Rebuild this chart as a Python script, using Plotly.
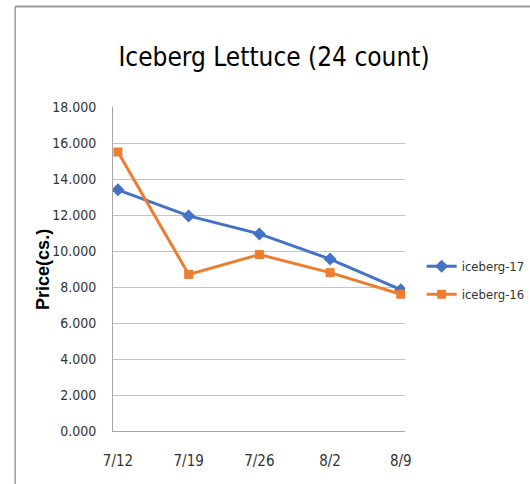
import plotly.graph_objects as go

dates = ["7/12", "7/19", "7/26", "8/2", "8/9"]
iceberg_17 = [13.4, 11.95, 10.95, 9.55, 7.85]
iceberg_16 = [15.5, 8.7, 9.8, 8.8, 7.6]
y_ticks = [0, 2, 4, 6, 8, 10, 12, 14, 16, 18]

FONT = "DejaVu Sans Condensed, Liberation Sans Narrow, Roboto, sans-serif"
BLUE = "#4472C4"
ORANGE = "#ED7D31"
TEXT = "#333333"

fig = go.Figure()
fig.add_trace(go.Scatter(
    x=list(range(len(dates))), y=iceberg_17, name="iceberg-17",
    mode="lines+markers", legendgroup="a",
    line=dict(color=BLUE, width=3),
    marker=dict(symbol="diamond", size=10, color=BLUE),
))
fig.add_trace(go.Scatter(
    x=list(range(len(dates))), y=iceberg_16, name="iceberg-16",
    mode="lines+markers", legendgroup="b",
    line=dict(color=ORANGE, width=3),
    marker=dict(symbol="square", size=9, color=ORANGE),
))

fig.update_layout(
    width=530, height=484,
    margin=dict(l=113, r=125, t=107, b=53, autoexpand=False),
    paper_bgcolor="white", plot_bgcolor="white",
    font=dict(family=FONT, color=TEXT),
    title=dict(text="Iceberg Lettuce (24 count)", x=0.517, xanchor="center",
               y=0.883, yanchor="middle", automargin=False,
               font=dict(family=FONT, size=26, color="#000000")),
    showlegend=True,
    legend=dict(x=1.057, xanchor="left", y=0.465, yanchor="middle",
                font=dict(family=FONT, size=13, color=TEXT),
                tracegroupgap=8, traceorder="grouped",
                bgcolor="rgba(0,0,0,0)"),
    xaxis=dict(
        tickmode="array", tickvals=list(range(len(dates))), ticktext=dates,
        range=[-0.07, 4.06], showgrid=False, zeroline=False,
        showline=True, linecolor="#a6a6a6", linewidth=1, automargin=False,
        ticks="", tickfont=dict(family=FONT, size=15, color=TEXT),
        ticklabelstandoff=16,
    ),
    yaxis=dict(
        tickmode="array", tickvals=y_ticks, tickformat=".3f",
        range=[0, 18], showgrid=True, gridcolor="#c4c4c4", gridwidth=1,
        zeroline=False, showline=True, linecolor="#a6a6a6", linewidth=1,
        automargin=False,
        ticks="", tickfont=dict(family=FONT, size=14, color=TEXT),
        ticklabelstandoff=13,
    ),
    annotations=[dict(
        text="<b>Price(cs.)</b>", textangle=-90, showarrow=False,
        xref="paper", yref="paper", x=-0.24, y=0.5,
        xanchor="center", yanchor="middle",
        font=dict(family="Liberation Sans, Arial, sans-serif", size=18, color="#000000"),
    )],
)

# outer chart frame (left and top edges visible)
fig.add_shape(type="line", xref="paper", yref="paper", x0=-0.335, x1=1.45, y0=1.31, y1=1.31,
              line=dict(color="#9a9a9a", width=2))
fig.add_shape(type="line", xref="paper", yref="paper", x0=-0.335, x1=-0.335, y0=1.31, y1=-0.2,
              line=dict(color="#9a9a9a", width=1.5))

fig.write_html("out.html", config={"displayModeBar": False},
               post_script="document.body.style.margin='0';")
